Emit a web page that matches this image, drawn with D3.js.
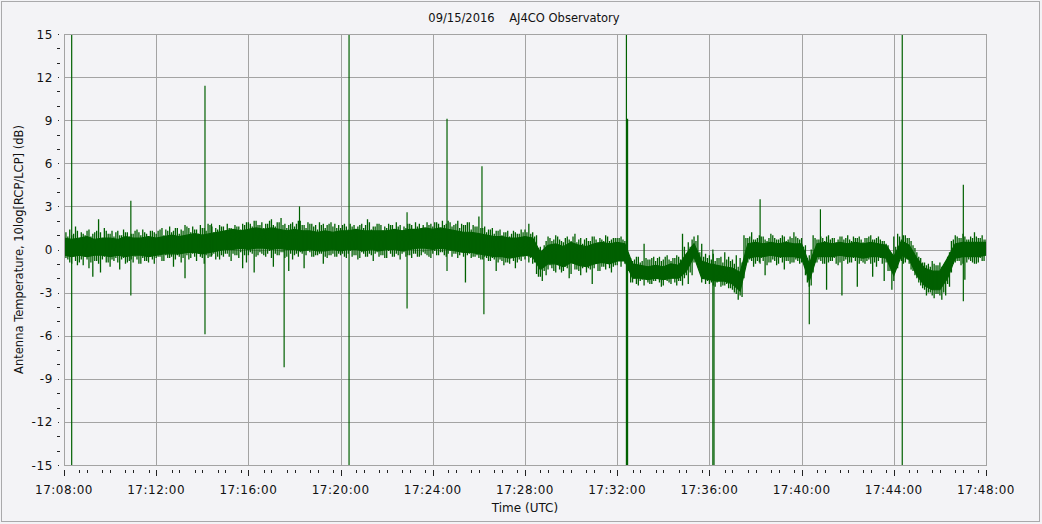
<!DOCTYPE html>
<html><head><meta charset="utf-8">
<script src="https://cdn.jsdelivr.net/npm/d3@7"></script>
<style>
html,body{margin:0;padding:0;background:#f3f3f6;}
svg{display:block;font-family:"DejaVu Sans",Verdana,sans-serif;}
</style>
</head><body>
<svg id="chart" width="1042" height="524"></svg>
<script>
// ---------------- data ----------------
const chartTitle = "09/15/2016    AJ4CO Observatory";
const yTitle = "Antenna Temperature, 10log[RCP/LCP] (dB)";
const xTitle = "Time (UTC)";
const startTime = "2016-09-15T17:08:00Z";
const endTime = "2016-09-15T17:48:00Z";
const yTicks = [-15, -12, -9, -6, -3, 0, 3, 6, 9, 12, 15];

// dense core of the noise band, one value per 20 s (dB)
const coreStep = 20;
const coreHigh = [
  0.8,0.7,0.8,0.9,0.7,0.8,0.8,0.7,0.9,0.8,0.8,0.9,0.8,
  0.9,1.0,0.9,1.0,1.1,1.0,1.1,1.2,
  1.3,1.4,1.3,1.4,1.5,1.4,1.5,1.4,1.3,1.4,1.3,1.3,1.2,1.3,1.2,1.3,1.3,1.4,1.3,1.3,
  1.3,1.3,1.4,1.3,1.4,1.4,1.5,1.4,1.5,1.4,
  1.3,1.2,1.2,1.1,1.0,0.9,0.9,0.8,0.8,0.9,
  0.8,-0.2,0.3,0.4,0.2,0.5,0.3,0.2,0.4,0.5,0.4,0.5,0.4,
  -1.0,-1.1,-1.2,-1.1,-1.2,-1.0,-1.1,
  -0.3,0.4,-0.8,-1.0,-1.1,-1.2,-1.3,-1.6,
  0.4,0.5,0.4,0.5,0.4,0.5,0.4,0.4,
  -1.0,0.4,0.5,0.4,0.5,0.4,0.5,0.4,0.5,0.4,0.3,
  -0.5,0.6,0.3,-0.6,-1.3,-1.5,-1.5,-0.6,0.4,0.5,0.5,0.5,0.5
];
const coreLow = [
  -0.4,-0.5,-0.4,-0.5,-0.4,-0.4,-0.5,-0.4,-0.5,-0.4,-0.4,-0.5,-0.4,
  -0.3,-0.3,-0.3,-0.2,-0.2,-0.3,-0.2,-0.1,
  0.0,0.0,0.1,0.0,0.1,0.1,0.0,0.1,0.0,0.0,-0.1,0.0,-0.1,-0.1,0.0,-0.1,0.0,0.0,-0.1,0.0,
  -0.1,0.0,0.0,-0.1,0.0,0.1,0.1,0.0,0.1,0.0,
  -0.1,-0.2,-0.2,-0.3,-0.4,-0.5,-0.5,-0.6,-0.5,-0.4,
  -0.5,-1.4,-1.0,-1.0,-1.2,-0.9,-1.1,-1.2,-1.0,-0.9,-1.0,-0.8,-0.8,
  -2.0,-2.0,-2.1,-2.0,-2.1,-2.0,-2.0,
  -1.5,-0.5,-2.0,-2.1,-2.2,-2.2,-2.4,-2.9,
  -0.6,-0.5,-0.5,-0.4,-0.5,-0.5,-0.5,-0.6,
  -2.2,-0.5,-0.5,-0.5,-0.4,-0.5,-0.5,-0.6,-0.5,-0.5,-0.6,
  -1.8,-0.4,-0.7,-1.8,-2.5,-2.8,-2.8,-2.0,-0.6,-0.5,-0.5,-0.5,-0.4
];

// noise excursions (dB), 10 s apart
const sampleStep = 10;
// upward, at 0 s, 10 s, 20 s ...
const upA = [
  1.2,0.9,1.0,1.6,0.8,1.1,1.3,0.9,1.2,2.1,0.8,1.3,1.1,0.9,1.3,1.0,1.2,0.9,1.1,1.4,1.0,1.2,0.9,1.3,
  1.1,1.4,1.0,1.3,1.2,1.5,1.1,1.3,1.6,1.2,1.4,1.1,1.5,1.3,1.7,1.2,1.4,1.6,1.3,1.5,1.2,1.6,1.4,1.7,
  1.9,1.6,2.0,1.7,1.5,1.8,2.1,1.6,1.9,1.7,1.5,1.8,1.6,2.0,1.7,1.5,1.8,1.6,1.4,1.7,1.5,1.8,1.6,1.5,
  1.5,1.8,1.4,1.6,1.3,1.7,1.5,2.1,1.4,1.6,1.8,1.3,1.5,1.7,1.4,1.6,1.3,1.5,1.8,1.4,1.6,1.5,1.3,1.7,
  1.6,1.9,1.5,1.7,2.0,1.6,1.8,1.5,1.7,1.9,1.4,1.6,2.3,1.5,1.2,1.4,1.1,1.3,1.0,1.2,0.9,1.3,1.1,1.4,
  1.4,1.8,1.2,1.0,0.2,0.3,0.9,0.6,1.0,0.7,0.5,0.9,0.6,1.1,0.7,0.4,0.8,0.6,0.9,0.5,0.7,1.0,0.6,0.8,
  0.8,0.9,0.6,-0.7,-0.8,-0.5,-0.9,0.4,-0.7,-0.6,-0.8,-0.5,-0.7,-0.4,-0.8,-0.6,-0.5,1.1,-0.4,0.2,0.9,1.0,0.4,-0.3,
  -0.4,-0.3,-0.6,-0.5,-0.2,-0.5,-0.7,-0.4,-0.6,1.0,0.8,1.2,0.7,1.0,0.9,0.6,1.1,0.8,0.7,1.0,0.6,0.9,1.2,0.8,
  0.8,0.3,-0.4,1.0,0.7,0.9,0.6,1.0,0.8,0.5,0.9,0.7,1.0,0.6,0.8,0.9,0.5,0.8,1.0,0.7,0.9,0.6,0.4,-0.2,
  0.9,1.1,0.7,1.0,0.8,0.3,-0.2,-0.6,-0.9,-1.0,-0.8,-1.1,-0.9,-1.2,-0.5,0.6,1.0,0.8,1.1,0.7,0.9,1.2,0.8,1.0,0.7
];
// upward, at 5 s, 15 s, 25 s ...
const upB = [
  1.2,1.4,1.1,1.3,1.2,1.0,1.4,1.1,1.3,1.2,1.5,1.1,1.3,1.2,1.0,1.4,1.2,1.1,1.3,1.2,1.4,1.1,1.3,1.2,
  1.3,1.5,1.4,1.6,1.3,1.5,1.4,1.7,1.5,1.6,1.4,1.7,1.5,1.8,1.6,1.5,1.7,1.6,1.8,1.5,1.7,1.6,1.8,1.9,
  1.8,2.0,1.7,1.9,1.8,2.0,1.7,1.9,2.2,1.8,1.7,1.9,1.8,2.0,1.7,1.9,1.8,1.7,1.9,1.8,1.7,1.9,1.8,1.7,
  1.7,1.6,1.8,1.7,1.6,1.8,1.7,1.9,1.6,1.8,1.7,1.6,1.8,1.7,1.9,1.7,1.6,1.8,1.7,1.9,1.8,1.7,1.9,1.8,
  1.9,1.8,2.0,1.8,1.9,1.7,2.0,1.8,1.7,1.9,1.7,1.6,1.5,1.6,1.4,1.5,1.3,1.4,1.2,1.3,1.1,1.2,1.1,1.2,
  1.2,1.1,0.9,0.1,-0.1,0.6,0.8,0.7,0.9,0.6,0.8,0.7,0.9,0.5,0.8,0.7,0.6,0.9,0.7,0.8,0.6,0.9,0.7,0.8,
  0.8,0.7,-0.4,-0.6,-0.7,-0.5,-0.8,-0.6,-0.7,-0.5,-0.6,-0.8,-0.5,-0.7,-0.6,-0.4,-0.7,0.2,0.5,0.7,0.6,-0.2,-0.5,-0.6,
  -0.7,-0.8,-0.6,-0.9,-0.7,-0.8,-1.0,-1.2,-0.9,0.8,0.9,0.7,0.8,0.9,0.7,0.8,1.0,0.7,0.8,0.9,0.7,0.8,0.9,0.7,
  0.2,-0.6,0.0,0.8,0.7,0.8,0.9,0.7,0.8,0.7,0.9,0.8,0.7,0.9,0.8,0.7,0.8,0.9,0.7,0.8,0.7,0.6,0.3,-0.3,
  0.2,0.9,1.0,0.8,0.6,0.1,-0.5,-0.9,-1.1,-1.2,-1.0,-1.1,-1.2,-0.9,-0.2,0.7,0.9,0.8,0.9,0.7,0.8,0.9,0.8,0.7
];
// downward, at 5 s, 15 s, 25 s ...
const downA = [
  -0.6,-0.9,-0.4,-1.1,-0.7,-0.5,-1.3,-1.9,-0.8,-1.6,-0.5,-0.9,-0.7,-0.6,-1.4,-0.6,-0.9,-0.7,-0.5,-1.0,-0.6,-0.8,-0.5,-1.0,
  -0.5,-0.8,-0.4,-0.6,-1.2,-0.4,-0.9,-2.0,-0.7,-0.3,-0.8,-0.5,-1.0,-0.6,-0.4,-0.7,-0.7,-0.5,-0.3,-0.8,-0.4,-0.6,-1.3,-0.9,
  -0.2,-1.6,-0.4,-0.3,-0.5,-0.1,-1.2,-0.4,-0.2,-0.6,-1.5,-0.7,-0.3,-0.2,-1.3,-0.1,-0.5,-0.4,-0.3,-1.0,-0.6,-0.4,-0.5,-0.3,
  -0.3,-0.6,-0.1,-0.4,-0.7,-0.2,-0.5,-0.3,-0.8,-0.2,-0.4,-0.6,-0.1,-0.5,-0.3,-0.7,-0.2,-0.4,-0.6,-0.3,-0.5,-0.2,-0.4,-0.6,
  -0.1,-0.4,-0.2,-0.5,-0.1,-0.3,-0.6,-0.2,-2.3,-0.3,-0.5,-0.4,-0.7,-0.5,-0.8,-0.6,-1.5,-0.7,-1.1,-0.9,-0.6,-1.3,-0.7,-0.5,
  -0.4,-0.6,-0.9,-1.9,-2.2,-1.8,-1.1,-1.5,-0.9,-1.6,-1.2,-2.0,-1.0,-1.4,-1.8,-1.1,-1.3,-2.4,-0.9,-1.5,-1.2,-1.0,-1.6,-1.1,
  -0.8,-0.6,-1.2,-2.3,-2.0,-2.5,-2.1,-1.9,-2.4,-2.2,-2.0,-2.6,-2.1,-2.3,-2.0,-2.5,-2.2,-2.0,-2.4,-1.8,-0.6,-0.5,-1.5,-2.2,
  -2.3,-2.6,-2.2,-2.5,-2.4,-2.7,-3.0,-3.5,-3.3,-1.0,-0.7,-1.2,-0.8,-0.6,-1.8,-0.9,-0.7,-1.1,-0.6,-1.4,-0.8,-0.9,-0.7,-1.0,
  -0.8,-2.3,-2.5,-0.9,-0.7,-1.0,-2.8,-0.8,-0.6,-1.1,-3.2,-0.7,-0.9,-0.6,-2.6,-0.8,-1.0,-0.7,-1.9,-1.2,-0.6,-2.2,-1.5,-2.8,
  -0.8,-0.6,-1.0,-0.7,-1.4,-1.8,-2.3,-2.7,-3.2,-3.0,-3.4,-3.1,-3.5,-3.2,-2.6,-1.0,-0.8,-1.1,-2.1,-0.7,-0.9,-1.0,-0.6,-0.8
];
// downward, at 0 s, 10 s, 20 s ...
const downB = [
  -0.8,-0.7,-1.0,-0.8,-0.9,-1.1,-0.7,-0.9,-0.8,-1.0,-0.7,-0.9,-1.2,-0.8,-0.9,-0.7,-1.0,-0.8,-0.9,-0.7,-1.0,-0.8,-0.9,-0.7,
  -0.6,-0.5,-0.8,-0.6,-0.5,-0.7,-0.5,-0.6,-0.4,-0.6,-0.5,-0.3,-0.6,-0.4,-0.5,-0.3,-0.5,-0.4,-0.3,-0.5,-0.3,-0.4,-0.2,-0.4,
  -0.4,-0.3,-0.5,-0.2,-0.4,-0.3,-0.6,-0.3,-0.4,-0.2,-0.5,-0.3,-0.4,-0.5,-0.3,-0.4,-0.2,-0.5,-0.4,-0.3,-0.5,-0.4,-0.3,-0.5,
  -0.4,-0.5,-0.3,-0.5,-0.4,-0.6,-0.3,-0.5,-0.4,-0.3,-0.5,-0.4,-0.6,-0.3,-0.5,-0.4,-0.3,-0.5,-0.4,-0.3,-0.5,-0.4,-0.3,-0.5,
  -0.3,-0.4,-0.2,-0.4,-0.3,-0.5,-0.3,-0.4,-0.5,-0.4,-0.6,-0.5,-0.6,-0.7,-0.6,-0.8,-0.7,-0.9,-0.8,-0.9,-1.0,-0.8,-0.9,-0.8,
  -0.7,-0.9,-1.0,-1.7,-1.9,-1.5,-1.4,-1.3,-1.6,-1.4,-1.5,-1.3,-1.7,-1.4,-1.5,-1.3,-1.6,-1.4,-1.3,-1.5,-1.2,-1.4,-1.3,-1.2,
  -1.1,-1.2,-1.0,-1.5,-2.3,-2.4,-2.2,-2.5,-2.3,-2.4,-2.2,-2.3,-2.5,-2.2,-2.4,-2.3,-2.2,-2.5,-1.8,-1.6,-0.9,-0.8,-2.3,-2.4,
  -2.4,-2.5,-2.3,-2.6,-2.5,-2.7,-2.8,-3.1,-3.2,-2.0,-0.9,-0.8,-1.0,-0.9,-0.8,-1.1,-0.9,-0.8,-1.0,-0.9,-0.8,-1.0,-0.9,-0.8,
  -0.9,-1.8,-2.6,-1.6,-0.9,-0.8,-1.0,-0.9,-0.8,-1.0,-0.9,-0.8,-1.0,-0.9,-0.8,-1.0,-0.9,-0.8,-1.0,-0.9,-0.8,-1.0,-0.9,-1.5,
  -2.2,-1.3,-0.8,-0.9,-1.0,-1.5,-2.0,-2.5,-2.8,-3.0,-3.2,-3.1,-3.2,-3.0,-2.4,-1.6,-0.9,-0.8,-1.0,-0.9,-0.8,-1.0,-0.9,-0.8
];
// isolated impulses: seconds after 17:08:00, top and bottom value (dB)
const spikeSeconds = [20, 174, 367, 384, 573, 613, 742, 893, 997, 1088, 1093, 1464, 1467, 1689, 1692, 1812, 1940, 1969, 2182, 2341];
const spikeTop     = [15, 3.4, 11.4, 1.8, 0.5, 3.0, 15, 2.6, 9.1, 5.8, 0.5, 15, 9.1, 0, -1, 3.5, -1, 2.8, 15, 4.5];
const spikeBottom  = [-15, -3.2, -5.9, -0.5, -8.2, 0.5, -15, -4.1, -1.5, 0, -4.5, -15, -15, -15, -15, -1.0, -5.2, -0.5, -15, -3.6];

// ---------------- chart ----------------
const W = 1042, H = 524;
const margin = {left: 64, right: 56, top: 34, bottom: 59};
const svg = d3.select("#chart");
const t0 = new Date(startTime), t1 = new Date(endTime);
const sec = s => new Date(+t0 + s * 1000);
const x = d3.scaleUtc().domain([t0, t1]).range([margin.left, W - margin.right]);
const y = d3.scaleLinear().domain([-15, 15]).range([H - margin.bottom, margin.top]);
const gridColor = "#a3a3a3";
const lineColor = "#006000";

// outer frame
svg.append("rect").attr("x", 1.5).attr("y", 1.5).attr("width", W - 4).attr("height", H - 4)
  .attr("fill", "#f3f3f6").attr("stroke", "#a9a9ab").attr("stroke-width", 1);

// grid
const xMajor = d3.utcMinute.every(4).range(t0, new Date(+t1 + 1));
const xMinor = d3.utcSecond.every(40).range(t0, new Date(+t1 + 1));
svg.append("g").selectAll("line").data(xMajor).join("line")
  .attr("x1", d => Math.round(x(d)) + 0.5).attr("x2", d => Math.round(x(d)) + 0.5)
  .attr("y1", y(15)).attr("y2", y(-15)).attr("stroke", gridColor);
svg.append("g").selectAll("line").data(yTicks).join("line")
  .attr("x1", x(t0)).attr("x2", x(t1))
  .attr("y1", d => Math.round(y(d)) + 0.5).attr("y2", d => Math.round(y(d)) + 0.5).attr("stroke", gridColor);

// clip
svg.append("clipPath").attr("id", "plotclip").append("rect")
  .attr("x", x(t0)).attr("y", y(15)).attr("width", x(t1) - x(t0)).attr("height", y(-15) - y(15));
const plot = svg.append("g").attr("clip-path", "url(#plotclip)");

// dense core band
const core = coreHigh.map((h, k) => ({t: sec(k * coreStep), hi: h, lo: coreLow[k]}));
plot.append("path").datum(core)
  .attr("d", d3.area().x(d => x(d.t)).y0(d => y(d.lo)).y1(d => y(d.hi)))
  .attr("fill", lineColor).attr("stroke", lineColor).attr("stroke-width", 1.2);

// noise excursions drawn as vertical strokes from the core middle
const coreMid = d3.scaleLinear().domain(core.map(d => +d.t)).range(core.map(d => (d.hi + d.lo) / 2));
const excursions = [[upA, 0], [upB, 5], [downA, 5], [downB, 0]];
let dPath = "";
excursions.forEach(([arr, offset]) => {
  arr.forEach((v, i) => {
    const t = sec(i * sampleStep + offset);
    if (+t > +t1) return;
    dPath += `M${x(t)},${y(coreMid(+t))}V${y(v)}`;
  });
});
plot.append("path").attr("d", dPath).attr("fill", "none").attr("stroke", lineColor).attr("stroke-width", 1.3);

// impulses
plot.append("g").selectAll("line").data(spikeSeconds).join("line")
  .attr("x1", d => x(sec(d))).attr("x2", d => x(sec(d)))
  .attr("y1", (d, i) => y(spikeTop[i])).attr("y2", (d, i) => y(spikeBottom[i]))
  .attr("stroke", lineColor).attr("stroke-width", 1.2);

// plot border
svg.append("rect").attr("x", x(t0) + 0.5).attr("y", y(15) + 0.5)
  .attr("width", x(t1) - x(t0)).attr("height", y(-15) - y(15))
  .attr("fill", "none").attr("stroke", gridColor);

// y axis ticks
const yAxis = svg.append("g").attr("font-size", 12).attr("fill", "#111");
const yMinor = d3.range(-15, 15.01, 1).filter(v => yTicks.indexOf(v) < 0);
yAxis.selectAll("line.minor").data(yMinor).join("line").attr("class", "minor")
  .attr("x1", x(t0) - 7).attr("x2", x(t0) - 4)
  .attr("y1", d => Math.round(y(d)) + 0.5).attr("y2", d => Math.round(y(d)) + 0.5).attr("stroke", "#222");
yAxis.selectAll("line.major").data(yTicks).join("line").attr("class", "major")
  .attr("x1", x(t0) - 6).attr("x2", x(t0) - 5)
  .attr("y1", d => Math.round(y(d)) + 0.5).attr("y2", d => Math.round(y(d)) + 0.5).attr("stroke", "#222");
yAxis.selectAll("text").data(yTicks).join("text")
  .attr("x", x(t0) - 11).attr("y", d => y(d) + 4.5).attr("text-anchor", "end")
  .attr("letter-spacing", 0.6).text(d => d);

// x axis ticks
const fmt = d3.utcFormat("%H:%M:%S");
const xAxis = svg.append("g").attr("font-size", 12).attr("fill", "#111");
xAxis.selectAll("line.minor").data(xMinor).join("line")
  .attr("x1", d => Math.round(x(d)) + 0.5).attr("x2", d => Math.round(x(d)) + 0.5)
  .attr("y1", y(-15) + 5).attr("y2", y(-15) + 8).attr("stroke", "#222");
xAxis.selectAll("line.major").data(xMajor).join("line")
  .attr("x1", d => Math.round(x(d)) + 0.5).attr("x2", d => Math.round(x(d)) + 0.5)
  .attr("y1", y(-15) + 5).attr("y2", y(-15) + 11).attr("stroke", "#222");
xAxis.selectAll("text").data(xMajor).join("text")
  .attr("x", d => x(d)).attr("y", y(-15) + 29).attr("text-anchor", "middle")
  .attr("letter-spacing", 0.5).text(d => fmt(d));

// titles
svg.append("text").attr("x", 524).attr("y", 22).attr("text-anchor", "middle")
  .attr("font-size", 11.5).attr("fill", "#111").style("white-space", "pre").text(chartTitle);
svg.append("text").attr("x", x(t0) + (x(t1) - x(t0)) / 2).attr("y", 512).attr("text-anchor", "middle")
  .attr("font-size", 12).attr("fill", "#111").text(xTitle);
svg.append("text").attr("transform", `translate(23,${(y(15) + y(-15)) / 2}) rotate(-90)`)
  .attr("text-anchor", "middle").attr("font-size", 11.5).attr("fill", "#111").text(yTitle);
</script>
</body></html>
